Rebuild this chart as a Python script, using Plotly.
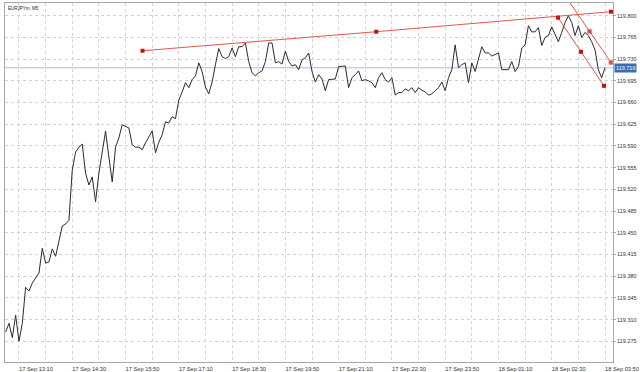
import pandas as pd
import plotly.graph_objects as go

symbol_title = "EURJPYm, M5"
start_time = "2019-09-17 12:50"

prices = [
    119.290, 119.304, 119.281, 119.317, 119.275, 119.304, 119.362, 119.356, 119.369, 119.378,
    119.385, 119.425, 119.401, 119.403, 119.424, 119.412, 119.438, 119.461, 119.464, 119.470,
    119.551, 119.580, 119.588, 119.593, 119.546, 119.527, 119.540, 119.500, 119.546, 119.579,
    119.614, 119.572, 119.532, 119.588, 119.603, 119.624, 119.621, 119.619, 119.592, 119.588,
    119.588, 119.584, 119.595, 119.605, 119.614, 119.579, 119.596, 119.608, 119.629, 119.627,
    119.637, 119.634, 119.664, 119.677, 119.692, 119.684, 119.697, 119.703, 119.724, 119.710,
    119.685, 119.674, 119.693, 119.721, 119.747,
    119.734, 119.731, 119.734, 119.748, 119.734, 119.750, 119.750, 119.756, 119.726, 119.708,
    119.703, 119.708, 119.711, 119.726, 119.756, 119.756, 119.724, 119.726, 119.722, 119.743,
    119.726, 119.719, 119.721, 119.713, 119.729, 119.732, 119.740, 119.710, 119.693, 119.705,
    119.698, 119.679, 119.697, 119.698, 119.698, 119.718, 119.719, 119.719, 119.684, 119.700,
    119.705, 119.711, 119.695, 119.697, 119.695, 119.692, 119.684, 119.700, 119.708, 119.697,
    119.693, 119.700, 119.672, 119.676, 119.676, 119.682, 119.679, 119.684, 119.676, 119.684,
    119.680, 119.677, 119.672, 119.674, 119.679, 119.684, 119.693, 119.679,
    119.700, 119.713, 119.753, 119.716, 119.721, 119.724, 119.692, 119.724, 119.710, 119.732,
    119.750, 119.740, 119.740, 119.735, 119.737, 119.740, 119.713, 119.713, 119.713, 119.726,
    119.710, 119.718, 119.748, 119.753, 119.784, 119.774, 119.774, 119.781, 119.752, 119.765,
    119.768, 119.782, 119.769, 119.758, 119.773, 119.789, 119.800, 119.789, 119.768, 119.784,
    119.765, 119.773, 119.768, 119.758, 119.745, 119.713, 119.700, 119.716,
]

# Drawing objects (trendline and channel) anchor points
trend_times = ["2019-09-17 16:15:30", "2019-09-17 22:06:30", "2019-09-18 03:59:00"]
trend_values = [119.7435, 119.7742, 119.8065]

chan_low_times = ["2019-09-18 02:39:30", "2019-09-18 03:14:00", "2019-09-18 03:48:30"]
chan_low_values = [119.7968, 119.7418, 119.6869]

chan_up_times = ["2019-09-18 02:55:00", "2019-09-18 03:27:00", "2019-09-18 03:59:00"]
chan_up_values = [119.8245, 119.7746, 119.7246]
chan_up_marked = [False, True, True]

# Axis ticks
x_tick_times = ["2019-09-17 13:10", "2019-09-17 14:30", "2019-09-17 15:50", "2019-09-17 17:10",
                "2019-09-17 18:30", "2019-09-17 19:50", "2019-09-17 21:10", "2019-09-17 22:30",
                "2019-09-17 23:50", "2019-09-18 01:10", "2019-09-18 02:30", "2019-09-18 03:50"]
x_tick_labels = ["17 Sep 13:10", "17 Sep 14:30", "17 Sep 15:50", "17 Sep 17:10",
                 "17 Sep 18:30", "17 Sep 19:50", "17 Sep 21:10", "17 Sep 22:30",
                 "17 Sep 23:50", "18 Sep 01:10", "18 Sep 02:30", "18 Sep 03:50"]
y_tick_values = [119.275, 119.310, 119.345, 119.380, 119.415, 119.450, 119.485, 119.520,
                 119.555, 119.590, 119.625, 119.660, 119.695, 119.730, 119.765, 119.800]

times = pd.date_range(start_time, periods=len(prices), freq="5min")
current = prices[-1]

FONT = "Liberation Sans, Arial, sans-serif"
LINE_RED = "#e0574f"
MARK_RED = "#c8100c"
GRID = "#d2d2d2"

fig = go.Figure()

fig.add_trace(go.Scatter(x=times, y=prices, mode="lines",
                         line=dict(color="#2b2b2b", width=1), hoverinfo="skip"))

fig.add_trace(go.Scatter(x=pd.to_datetime(trend_times), y=trend_values, mode="lines+markers",
                         line=dict(color=LINE_RED, width=1),
                         marker=dict(color=MARK_RED, size=4, symbol="square"),
                         hoverinfo="skip"))
fig.add_trace(go.Scatter(x=pd.to_datetime(chan_low_times), y=chan_low_values, mode="lines+markers",
                         line=dict(color=LINE_RED, width=1),
                         marker=dict(color=MARK_RED, size=4, symbol="square"),
                         hoverinfo="skip"))
fig.add_trace(go.Scatter(x=pd.to_datetime(chan_up_times), y=chan_up_values, mode="lines+markers",
                         line=dict(color=LINE_RED, width=1),
                         marker=dict(color=MARK_RED, symbol="square",
                                     size=[4 if m else 0 for m in chan_up_marked]),
                         hoverinfo="skip"))

# current price line
fig.add_shape(type="line", xref="paper", x0=0, x1=1, yref="y", y0=current, y1=current,
              line=dict(color="#a9bcd8", width=1), layer="below")
fig.add_annotation(xref="paper", x=1, yref="y", y=current, text=f"{current:.3f}",
                   showarrow=False, xanchor="left", yanchor="middle", xshift=1,
                   bgcolor="#3a6db0", borderpad=1,
                   font=dict(family=FONT, size=5.5, color="white"))

fig.add_annotation(xref="paper", yref="paper", x=0, y=1, text=symbol_title,
                   showarrow=False, xanchor="left", yanchor="top", xshift=1, yshift=-1,
                   font=dict(family=FONT, size=4.5, color="#222"))

x_range = [pd.Timestamp("2019-09-17 12:49"), pd.Timestamp("2019-09-18 04:02")]

fig.update_layout(
    width=640, height=372,
    margin=dict(l=5, r=27, t=3, b=10),
    paper_bgcolor="white", plot_bgcolor="white",
    showlegend=False,
    font=dict(family=FONT, size=6, color="#333"),
    xaxis=dict(
        type="date", range=x_range,
        tickmode="array", tickvals=pd.to_datetime(x_tick_times), ticktext=x_tick_labels,
        ticks="", ticklabelshift=17, ticklabelstandoff=1, ticklabeloverflow="allow",
        showgrid=True, gridcolor=GRID, griddash="dot", gridwidth=1,
        minor=dict(tick0="2019-09-17 12:30", dtick=40 * 60 * 1000, showgrid=True,
                   gridcolor=GRID, griddash="dot", gridwidth=1),
        showline=True, linecolor="#a8a8a8", linewidth=1, mirror=True,
        zeroline=False, automargin=False,
        tickfont=dict(family=FONT, size=5.7, color="#333"),
    ),
    yaxis=dict(
        range=[119.2416, 119.8205], side="right",
        tickmode="array", tickvals=y_tick_values,
        ticktext=[f"{v:.3f}" for v in y_tick_values],
        ticks="outside", ticklen=2, tickcolor="#a8a8a8", ticklabelstandoff=0,
        ticklabeloverflow="allow",
        showgrid=True, gridcolor=GRID, griddash="dot", gridwidth=1,
        showline=True, linecolor="#a8a8a8", linewidth=1, mirror=True,
        zeroline=False, automargin=False,
        tickfont=dict(family=FONT, size=5.5, color="#333"),
    ),
)

fig.write_html("out.html")
